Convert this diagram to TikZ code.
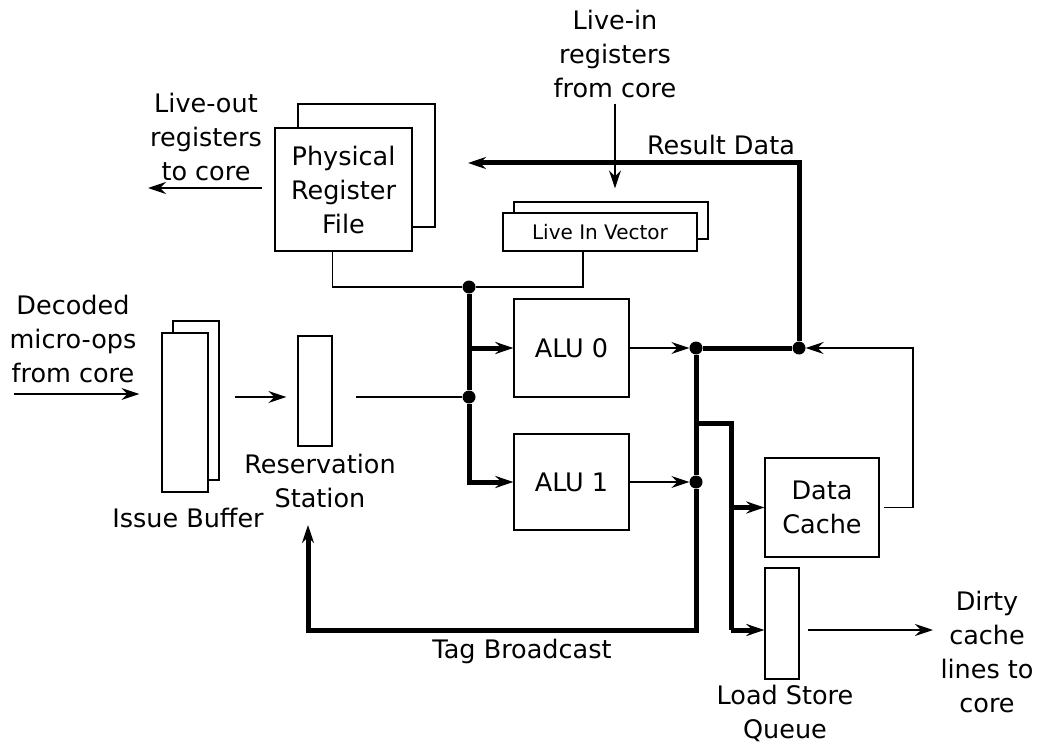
\documentclass[tikz,border=0pt]{standalone}
\usepackage{fontspec}
\setmainfont{DejaVu Sans}
\usetikzlibrary{arrows.meta}

\begin{document}
\begin{tikzpicture}[x=1pt, y=-1pt, font=\fontsize{25.5}{34}\selectfont,
   box/.style={draw, line width=1.3pt, fill=white, inner sep=0pt, align=center},
   lbl/.style={align=center, inner sep=0pt},
   wire/.style={line width=1.5pt},
   bus/.style={line width=5pt},
   arr/.style={-{Stealth[length=18pt, width=12pt, inset=6pt]}},
   dot/.style={circle, fill, inner sep=0pt, minimum size=13pt}]
      \useasboundingbox (0,0) rectangle (1044,746);
      \node[box, minimum width=137pt, minimum height=123pt] (prfb) at (366.5,165.5) {};
      \node[box, minimum width=137pt, minimum height=123pt] (prf) at (343.5,189.5) {Physical\\Register\\File};
      \node[box, minimum width=194pt, minimum height=37pt] (livb) at (611,220.5) {};
      \node[box, minimum width=194pt, minimum height=38pt, font=\fontsize{20}{24}\selectfont] (liv) at (600,232) {Live In Vector};
      \node[box, minimum width=46pt, minimum height=159pt] (ibb) at (196,400.5) {};
      \node[box, minimum width=46pt, minimum height=159pt] (ib) at (185,412.5) {};
      \node[box, minimum width=34pt, minimum height=110pt] (rs) at (315,391) {};
      \node[box, minimum width=115pt, minimum height=98pt] (alu0) at (571.5,348) {ALU 0};
      \node[box, minimum width=115pt, minimum height=96pt] (alu1) at (571.5,482) {ALU 1};
      \node[box, minimum width=114pt, minimum height=99pt] (dc) at (822,507.5) {Data\\Cache};
      \node[box, minimum width=34pt, minimum height=111pt] (lsq) at (782,623.5) {};
      \node[lbl] (livein) at (615,54) {Live-in\\registers\\from core};
      \node[lbl] (liveout) at (206,137) {Live-out\\registers\\to core};
      \node[lbl] (dec) at (73,339) {Decoded\\micro-ops\\from core};
      \node[lbl] (rslbl) at (320,481) {Reservation\\Station};
      \node[lbl] (iblbl) at (188,518) {Issue Buffer};
      \node[lbl] (lsqlbl) at (785,713) {Load Store\\Queue};
      \node[lbl] (dirty) at (987,652) {Dirty\\cache\\lines to\\core};
      \node[lbl] (rdlbl) at (721,145) {Result Data};
      \node[lbl] (tblbl) at (522,651) {Tag Broadcast};
      \node[dot] (j1) at (469,287) {};
      \node[dot] (j2) at (469,397) {};
      \node[dot] (d0) at (696,348) {};
      \node[dot] (d1) at (696,482) {};
      \node[dot] (d2) at (799,348) {};
      \coordinate (din) at (14,394);
      \coordinate (lout) at (148,188);
      \coordinate (rd) at (468,163);
      \coordinate (tbc) at (696,630);
      \coordinate (rsin) at (308,525);
      \coordinate (br) at (696,423);
      \coordinate (lsb) at (731,423);
      \coordinate (dco) at (913,507.5);
      \coordinate (dout) at (933,630);
      \draw[wire, arr, shorten >=22pt] (din) -- (din -| ib.west);
      \draw[wire, arr, shorten <=12pt] (lout -| prf.west) -- (lout);
      \draw[wire, arr, shorten <=6pt, shorten >=13pt] (livein) -- (livb.north -| livein);
      \draw[wire] ([xshift=-11pt]prf.south) |- (j1) -| ([xshift=-17pt]liv.south);
      \draw[wire, arr, shorten <=15pt, shorten >=11pt] (ibb.east |- j2) -- (rs.west |- j2);
      \draw[wire, shorten <=23pt] (rs.east |- j2) -- (j2);
      \draw[bus] (j1) -- (j2);
      \draw[bus, arr] (alu0 -| j1) -- (alu0);
      \draw[bus, arr] (j2) |- (alu1);
      \draw[wire, arr] (alu0) -- (d0);
      \draw[wire, arr] (alu1) -- (d1);
      \draw[bus] (d0) -- (d2);
      \draw[bus, arr] (d2) |- (rd);
      \draw[bus] (d0) -- (d1);
      \draw[bus, arr] (d1) -- (tbc) -| (rsin);
      \draw[bus] (br) -- (lsb) -- (lsb |- tbc);
      \draw[bus, arr] (lsb |- dc) -- (dc);
      \draw[bus, arr] (lsb |- tbc) -- (lsq.west |- tbc);
      \draw[wire, arr, shorten <=4pt] (dc.east) -- (dco) |- (d2);
      \draw[wire, arr, shorten <=8pt] (lsq.east |- dout) -- (dout);
   \end{tikzpicture}
\end{document}
